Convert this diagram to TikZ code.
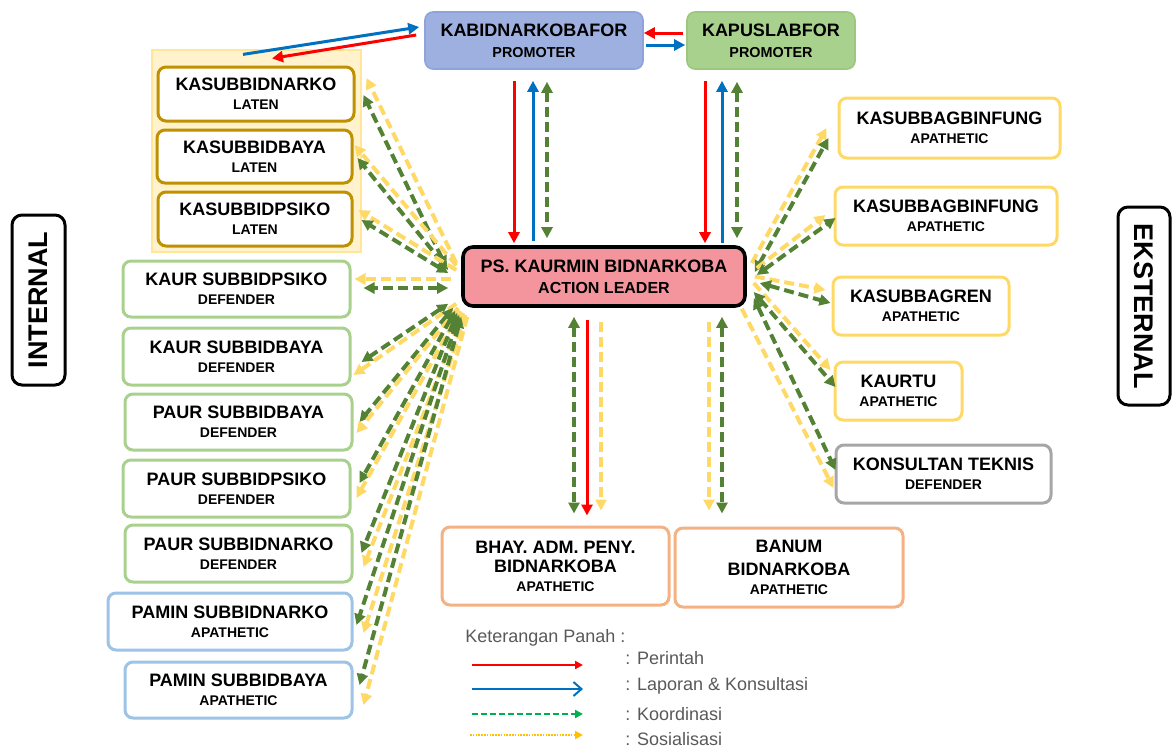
\documentclass[tikz,border=0pt]{standalone}
\usepackage{fontspec}
\setmainfont{Liberation Sans}
\usepackage{tikz}
\usetikzlibrary{arrows.meta,calc}
\definecolor{ink}{HTML}{000000}
\definecolor{muted}{HTML}{595959}
\definecolor{gold}{HTML}{BF9000}
\definecolor{panelfill}{HTML}{FFF2CC}
\definecolor{paneledge}{HTML}{FFE699}
\definecolor{leaf}{HTML}{A9D18E}
\definecolor{sky}{HTML}{9DC3E6}
\definecolor{sun}{HTML}{FFD966}
\definecolor{ash}{HTML}{A6A6A6}
\definecolor{peach}{HTML}{F4B183}
\definecolor{rose}{HTML}{F4959D}
\definecolor{peri}{HTML}{9DB0E0}
\definecolor{periedge}{HTML}{8EA3D9}
\definecolor{sage}{HTML}{A9D18E}
\definecolor{sageedge}{HTML}{9BC77F}
\definecolor{arrowred}{HTML}{FF0000}
\definecolor{arrowblue}{HTML}{0070C0}
\definecolor{arrowgreen}{HTML}{548235}
\definecolor{arrowgold}{HTML}{FFD966}
\definecolor{keygreen}{HTML}{00B050}
\definecolor{keygold}{HTML}{FFC000}
\tikzset{
  >={Triangle[length=5.5pt,width=5.5pt]},
  box/.style={draw, line width=1.5pt, rounded corners=4pt, fill=white, align=center,
    inner sep=1pt, text=ink, font=\fontsize{9}{9.5}\selectfont\bfseries},
  goldbox/.style={box, draw=gold},
  leafbox/.style={box, draw=leaf},
  skybox/.style={box, draw=sky},
  sunbox/.style={box, draw=sun},
  ashbox/.style={box, draw=ash},
  peachbox/.style={box, draw=peach},
  sidetag/.style={draw=ink, line width=1.5pt, rounded corners=5pt, fill=white,
    font=\fontsize{13.5}{14}\selectfont\bfseries, inner sep=1pt},
  order/.style={->, line width=1.5pt, draw=arrowred, fill=arrowred},
  report/.style={->, line width=1.5pt, draw=arrowblue, fill=arrowblue},
  coord/.style={<->, line width=2pt, draw=arrowgreen, dash pattern=on 5pt off 2.5pt},
  social/.style={->, line width=2pt, draw=arrowgold, dash pattern=on 5pt off 2.5pt},
  keytxt/.style={anchor=west, text=muted, font=\fontsize{9}{10}\selectfont, inner sep=0pt}
}
\newcommand{\hd}[2]{#1\\{\fontsize{7}{8}\selectfont #2}}

\begin{document}
\begin{tikzpicture}[x=0.5pt,y=-0.5pt]
  \useasboundingbox (0,0) rectangle (1175,751);

  % panel behind the LATEN group
  \node[draw=paneledge, fill=panelfill, line width=.6pt, minimum width=104.5pt, minimum height=101pt] (grp) at (256.5,151) {};

  % top
  \node[box, fill=peri, draw=periedge, line width=.8pt, minimum width=109pt, minimum height=28.5pt] (kabid) at (534,40.5)
    {KABIDNARKOBAFOR\\[1pt]{\fontsize{7.2}{8}\selectfont PROMOTER}};
  \node[box, fill=sage, draw=sageedge, line width=.8pt, minimum width=84pt, minimum height=28.5pt] (kapus) at (771,40.5)
    {KAPUSLABFOR\\[1pt]{\fontsize{7.2}{8}\selectfont PROMOTER}};

  % center
  \node[box, fill=rose, draw=ink, line width=1.8pt, rounded corners=5pt, minimum width=141pt, minimum height=29.5pt] (lead) at (604,276.5)
    {PS. KAURMIN BIDNARKOBA\\[1pt]{\fontsize{8}{9}\selectfont ACTION LEADER}};

  % internal side
  \node[goldbox, minimum width=98pt, minimum height=27pt] (ksnarko) at (256,94) {\hd{KASUBBIDNARKO}{LATEN}};
  \node[goldbox, minimum width=97.5pt, minimum height=26.5pt] (ksbaya) at (254.5,156.5) {\hd{KASUBBIDBAYA}{LATEN}};
  \node[goldbox, minimum width=97pt, minimum height=27pt] (kspsiko) at (255,219) {\hd{KASUBBIDPSIKO}{LATEN}};
  \node[leafbox, minimum width=113.5pt, minimum height=28pt] (kaurpsiko) at (236.5,289) {\hd{KAUR SUBBIDPSIKO}{DEFENDER}};
  \node[leafbox, minimum width=113.5pt, minimum height=28.5pt] (kaurbaya) at (236.5,356.5) {\hd{KAUR SUBBIDBAYA}{DEFENDER}};
  \node[leafbox, minimum width=113.5pt, minimum height=28pt] (paurbaya) at (238.5,422) {\hd{PAUR SUBBIDBAYA}{DEFENDER}};
  \node[leafbox, minimum width=113.5pt, minimum height=28.5pt] (paurpsiko) at (236.5,488.5) {\hd{PAUR SUBBIDPSIKO}{DEFENDER}};
  \node[leafbox, minimum width=113.5pt, minimum height=28.5pt] (paurnarko) at (238.5,553.5) {\hd{PAUR SUBBIDNARKO}{DEFENDER}};
  \node[skybox, minimum width=122pt, minimum height=28.5pt] (paminnarko) at (230,621.5) {\hd{PAMIN SUBBIDNARKO}{APATHETIC}};
  \node[skybox, minimum width=113.5pt, minimum height=28pt] (paminbaya) at (238.5,690) {\hd{PAMIN SUBBIDBAYA}{APATHETIC}};

  % external side
  \node[sunbox, minimum width=110.5pt, minimum height=30pt] (binfunga) at (949.5,128) {\hd{KASUBBAGBINFUNG}{APATHETIC}};
  \node[sunbox, minimum width=111pt, minimum height=29pt] (binfungb) at (946,216) {\hd{KASUBBAGBINFUNG}{APATHETIC}};
  \node[sunbox, minimum width=88pt, minimum height=29pt] (kasren) at (921,306) {\hd{KASUBBAGREN}{APATHETIC}};
  \node[sunbox, minimum width=63.5pt, minimum height=29pt] (kaurtu) at (898.5,391) {\hd{KAURTU}{APATHETIC}};
  \node[ashbox, minimum width=107.5pt, minimum height=29pt] (konsultan) at (943.5,474) {\hd{KONSULTAN TEKNIS}{DEFENDER}};

  % bottom
  \node[peachbox, minimum width=113.5pt, minimum height=39pt] (bhay) at (555.5,566)
    {BHAY. ADM. PENY.\\BIDNARKOBA\\{\fontsize{7}{8}\selectfont APATHETIC}};
  \node[peachbox, minimum width=114pt, minimum height=39.5pt] (banum) at (789,567.5)
    {BANUM\\[2pt]BIDNARKOBA\\{\fontsize{7}{8}\selectfont APATHETIC}};

  \node[sidetag, rotate=90, minimum width=85pt, minimum height=26.5pt] (intern) at (38.5,300) {INTERNAL};
  \node[sidetag, rotate=-90, minimum width=99pt, minimum height=26pt] (extern) at (1144,306) {EKSTERNAL};

  % top arrows
  \draw[report] ($(grp.north)+(-13.5,5)$) -- ($(kabid.west)+(-5,-13.5)$);
  \draw[order] ($(kabid.west)+(-8,-5.5)$) -- ($(grp.north)+(15.5,9)$);
  \draw[order] ($(kapus.west)+(-3,-7.5)$) -- ($(kabid.east)+(0,-7.5)$);
  \draw[report] ($(kabid.east)+(2,4.5)$) -- ($(kapus.west)+(-1,4.5)$);
  \draw[order] ($(kabid.south)+(-20,11)$) -- ($(lead.north)+(-90,-2)$);
  \draw[report] ($(lead.north)+(-71,-4)$) -- ($(kabid.south)+(-1,11)$);
  \draw[coord] ($(kabid.south)+(13,12)$) -- ($(lead.north)+(-57,-7)$);
  \draw[order] ($(kapus.south)+(-66,11)$) -- ($(lead.north)+(101,-2)$);
  \draw[report] ($(lead.north)+(118,-2)$) -- ($(kapus.south)+(-49,11)$);
  \draw[coord] ($(kapus.south)+(-34,12)$) -- ($(lead.north)+(133,-7)$);

  % internal fan
  \draw[social] ($(lead.west)+(-5,-13.5)$) -- ($(ksnarko.east)+(11,-16)$);
  \draw[coord] ($(lead.west)+(-15,-9.5)$) -- ($(ksnarko.east)+(8,1)$);
  \draw[social] ($(lead.west)+(-5,-11)$) -- ($(ksbaya.east)+(1,-11.5)$);
  \draw[coord] ($(lead.west)+(-13,-6.5)$) -- ($(ksbaya.east)+(4,1.5)$);
  \draw[social] ($(lead.west)+(-5,-6.5)$) -- ($(kspsiko.east)+(5,-9)$);
  \draw[coord] ($(lead.west)+(-13,-3.5)$) -- ($(kspsiko.east)+(8,1)$);
  \draw[social] ($(lead.west)+(-10,2.5)$) -- ($(kaurpsiko.east)+(3,-10)$);
  \draw[coord] ($(lead.west)+(-13,11.5)$) -- ($(kaurpsiko.east)+(12,-1)$);
  \draw[coord] ($(lead.south west)+(-13,-4)$) -- ($(kaurbaya.east)+(10,5.5)$);
  \draw[social] ($(lead.south west)+(-5,-4)$) -- ($(kaurbaya.east)+(2,18.5)$);
  \draw[coord] ($(lead.south west)+(-8,0)$) -- ($(paurbaya.east)+(6,0)$);
  \draw[social] ($(lead.south west)+(-3,0)$) -- ($(paurbaya.east)+(3,11)$);
  \draw[coord] ($(lead.south west)+(-6,3)$) -- ($(paurpsiko.east)+(8,-5.5)$);
  \draw[social] ($(lead.south west)+(-1,3)$) -- ($(paurpsiko.east)+(5,9.5)$);
  \draw[coord] ($(lead.south west)+(-4,5)$) -- ($(paurnarko.east)+(8,-0.5)$);
  \draw[social] ($(lead.south west)+(2,5)$) -- ($(paurnarko.east)+(10,13.5)$);
  \draw[coord] ($(lead.south west)+(-2,7)$) -- ($(paminnarko.east)+(3,3.5)$);
  \draw[social] ($(lead.south west)+(4,7)$) -- ($(paminnarko.east)+(10,11.5)$);
  \draw[coord] ($(lead.south west)+(0,9)$) -- ($(paminbaya.east)+(6,-5)$);
  \draw[social] ($(lead.south west)+(6,9)$) -- ($(paminbaya.east)+(10,15)$);

  % external fan
  \draw[social] ($(lead.east)+(5,-13.5)$) -- ($(binfunga.west)+(-11,0)$);
  \draw[coord] ($(lead.east)+(8,-4.5)$) -- ($(binfunga.west)+(-9,10)$);
  \draw[social] ($(lead.east)+(10,-8.5)$) -- ($(binfungb.west)+(-8,-1)$);
  \draw[coord] ($(lead.east)+(10,-1.5)$) -- ($(binfungb.west)+(2,2)$);
  \draw[social] ($(lead.east)+(8,0)$) -- ($(kasren.west)+(-6,-16)$);
  \draw[coord] ($(lead.east)+(13,6.5)$) -- ($(kasren.west)+(-1,-3)$);
  \draw[social] ($(lead.east)+(7,6.5)$) -- ($(kaurtu.west)+(-3,-21)$);
  \draw[coord] ($(lead.east)+(7,15.5)$) -- ($(kaurtu.west)+(2,-4)$);
  \draw[coord] ($(lead.east)+(7,21.5)$) -- ($(konsultan.west)+(1,-4)$);
  \draw[social] ($(lead.south east)+(-5,1)$) -- ($(konsultan.west)+(-1,14)$);

  % bottom arrows
  \draw[coord] ($(lead.south)+(-30,9)$) -- ($(bhay.north)+(18.5,-12)$);
  \draw[order] ($(lead.south)+(-17,12)$) -- ($(bhay.north)+(31.5,-10)$);
  \draw[social] ($(lead.south)+(-3,14)$) -- ($(bhay.north)+(45.5,-15)$);
  \draw[social] ($(lead.south)+(105,14)$) -- ($(banum.north)+(-80,-16)$);
  \draw[coord] ($(lead.south)+(118,9)$) -- ($(banum.north)+(-67,-13)$);

  % legend
  \node[keytxt] (keyttl) at (465,638) {Keterangan Panah :};
  \node[keytxt] (key1) at (625,658) {: Perintah};
  \node[keytxt] (key2) at (625,686) {: Laporan \& Konsultasi};
  \node[keytxt] (key3) at (625,714) {: Koordinasi};
  \node[keytxt] (key4) at (625,739) {: Sosialisasi};
  \draw[-{Triangle[length=4pt,width=4pt]}, line width=1pt, arrowred] ($(key1.west)+(-153,7)$) -- ($(key1.west)+(-42,7)$);
  \draw[-{Straight Barb[length=4pt,width=7pt]}, line width=1pt, arrowblue] ($(key2.west)+(-153,3)$) -- ($(key2.west)+(-42,3)$);
  \draw[-{Triangle[length=4pt,width=4pt]}, line width=1pt, keygreen, dash pattern=on 3pt off 1.5pt] ($(key3.west)+(-153,0)$) -- ($(key3.west)+(-42,0)$);
  \draw[-{Triangle[length=4pt,width=4pt]}, line width=1pt, keygold, dash pattern=on .8pt off .6pt] ($(key4.west)+(-155,-4)$) -- ($(key4.west)+(-42,-4)$);
\end{tikzpicture}
\end{document}
